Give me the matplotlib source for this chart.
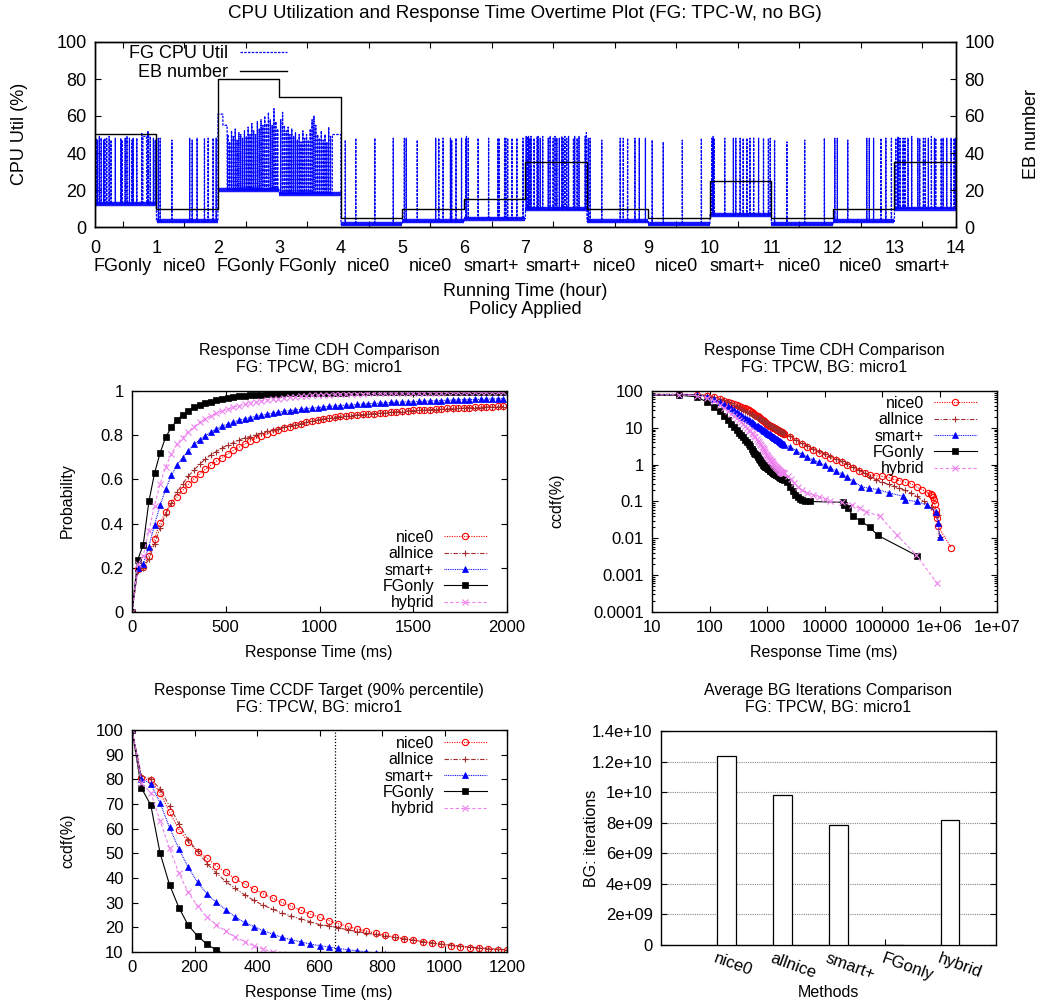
import numpy as np
import matplotlib
matplotlib.use('Agg')
import matplotlib.pyplot as plt

plt.rcParams['font.family'] = ['Liberation Sans', 'DejaVu Sans']

W, H = 1042, 1005

# ---------------- data: top plot ----------------
hours = list(range(15))
policies = ['FGonly', 'nice0', 'FGonly', 'FGonly', 'nice0', 'nice0', 'smart+',
            'smart+', 'nice0', 'nice0', 'smart+', 'nice0', 'nice0', 'smart+']
eb_number = [50, 10, 80, 70, 5, 10, 15, 35, 10, 5, 25, 5, 10, 35]
cpu_base = [12.5, 3, 20, 18, 1.5, 3, 4.5, 9.5, 3, 1.5, 6.5, 1.5, 3, 10]
plateau_t0 = [0.78, 2.00, 2.08, 3.86]
plateau_t1 = [0.84, 2.08, 2.15, 4.00]
plateau_v = [49, 61, 55, 50]
spike_t = [0.02, 0.04, 0.07, 0.10, 0.14, 0.16, 0.19, 0.23, 0.26, 0.33, 0.42, 0.44,
           0.49, 0.52, 0.56, 0.60, 0.62, 0.68, 0.76, 0.86, 0.87, 0.90, 0.95, 0.98,
           1.03, 1.06, 1.25, 1.54, 1.58, 1.66, 1.78, 1.84, 1.92, 1.97,
           2.16, 2.19, 2.22, 2.25, 2.28, 2.31, 2.34, 2.37, 2.40, 2.43, 2.46, 2.49,
           2.52, 2.55, 2.58, 2.61, 2.64, 2.67, 2.70, 2.73, 2.76, 2.79, 2.82, 2.85,
           2.88, 2.91, 2.94, 2.97,
           3.02, 3.05, 3.08, 3.11, 3.14, 3.17, 3.20, 3.23, 3.26, 3.29, 3.32, 3.35,
           3.38, 3.41, 3.44, 3.47, 3.50, 3.53, 3.56, 3.59, 3.62, 3.65, 3.68, 3.71,
           3.74, 3.77, 3.80, 3.83,
           4.07, 4.24, 4.55, 4.85,
           5.03, 5.06, 5.24, 5.54, 5.59, 5.66, 5.78, 5.80, 5.87, 5.96,
           6.03, 6.04, 6.07, 6.23, 6.40, 6.55, 6.57, 6.66, 6.68, 6.71, 6.78, 6.86, 6.96,
           7.01, 7.03, 7.05, 7.07, 7.09, 7.14, 7.19, 7.21, 7.24, 7.28, 7.37, 7.40,
           7.45, 7.48, 7.51, 7.55, 7.59, 7.61, 7.64, 7.67, 7.70, 7.78, 7.80, 7.84,
           7.87, 7.97, 7.99,
           8.02, 8.05, 8.24, 8.54, 8.59, 8.66, 8.78, 8.85, 8.95,
           9.06, 9.24, 9.55, 9.86,
           10.03, 10.05, 10.07, 10.24, 10.38, 10.42, 10.49, 10.54, 10.60, 10.65,
           10.71, 10.79, 10.87, 10.95, 10.98,
           11.05, 11.25, 11.54, 11.86,
           12.03, 12.07, 12.24, 12.55, 12.59, 12.66, 12.78, 12.86, 12.95,
           13.02, 13.05, 13.06, 13.09, 13.14, 13.17, 13.22, 13.28, 13.38, 13.41,
           13.47, 13.50, 13.55, 13.60, 13.65, 13.67, 13.76, 13.79, 13.85, 13.92,
           13.97, 13.99]
spike_h = [48, 47, 49, 48, 47, 48, 48, 49, 47, 48, 48, 47,
           48, 49, 48, 47, 48, 48, 51, 52, 50, 49, 48, 47,
           48, 48, 47, 48, 47, 48, 48, 48, 48, 48,
           50, 46, 52, 49, 53, 47, 51, 50, 48, 52, 49, 54,
           50, 56, 52, 50, 57, 53, 58, 55, 60, 56, 62, 58,
           55, 64, 57, 53,
           58, 62, 55, 52, 54, 50, 53, 49, 51, 47, 50, 46,
           52, 48, 50, 47, 53, 58, 60, 55, 50, 48, 52, 47,
           50, 46, 54, 49,
           47, 48, 48, 48,
           48, 48, 47, 48, 48, 48, 48, 47, 48, 48,
           48, 49, 48, 48, 48, 48, 48, 48, 48, 48, 48, 48, 48,
           49, 49, 49, 48, 49, 48, 49, 49, 48, 49, 48, 49,
           48, 49, 48, 48, 49, 48, 49, 48, 49, 48, 49, 48,
           49, 49, 51,
           48, 48, 47, 48, 48, 48, 48, 48, 48,
           47, 46, 47, 48,
           48, 49, 48, 48, 48, 48, 48, 48, 48, 48,
           48, 48, 48, 48, 48,
           47, 46, 47, 48,
           48, 48, 47, 48, 48, 48, 48, 48, 48,
           48, 48, 49, 48, 48, 48, 48, 49, 48, 48,
           48, 48, 48, 49, 48, 48, 48, 48, 48, 48,
           48, 48]

# ---------------- data: response-time distributions ----------------
rt_ms = list(range(0, 1981, 30))
series = ['nice0', 'allnice', 'smart+', 'FGonly', 'hybrid']
ccdf_nice0 = [100, 80.5, 79.6, 74.5, 66.8, 59.6, 54.6, 50.7, 48.0, 45.0,
              42.3, 39.7, 37.6, 35.5, 33.6, 31.8, 30.1, 28.5, 26.9, 25.4,
              24.1, 22.7, 21.5, 20.4, 19.3, 18.5, 17.6, 16.8, 16.1, 15.4,
              14.9, 14.2, 13.6, 13.1, 12.6, 12.2, 11.8, 11.5, 11.2, 10.9,
              10.8, 10.6, 10.4, 10.2, 10.0, 9.8, 9.6, 9.4, 9.2, 9.0,
              8.8, 8.7, 8.5, 8.4, 8.2, 8.1, 7.9, 7.8, 7.7, 7.6,
              7.5, 7.4, 7.3, 7.2, 7.1, 7.0, 6.9]
ccdf_allnice = [100, 81.5, 80.1, 76.1, 69.1, 61.9, 55.5, 50.8, 45.8, 42.0,
                38.6, 35.8, 33.2, 30.9, 28.9, 27.4, 25.8, 24.5, 23.4, 22.3,
                21.1, 20.6, 19.8, 19.0, 18.3, 17.7, 17.1, 16.5, 15.9, 15.3,
                14.8, 14.2, 13.7, 13.2, 12.8, 12.4, 12.0, 11.7, 11.4, 11.1,
                10.9, 10.7, 10.5, 10.3, 10.1, 9.9, 9.7, 9.5, 9.3, 9.2,
                9.0, 8.8, 8.7, 8.5, 8.4, 8.3, 8.1, 8.0, 7.9, 7.8,
                7.7, 7.6, 7.5, 7.4, 7.4, 7.3, 7.2]
ccdf_smart = [100, 80.3, 78.2, 70.4, 60.5, 51.8, 44.3, 38.2, 33.5, 30.1,
              27.2, 24.2, 22.0, 20.3, 18.6, 17.3, 15.9, 15.0, 14.1, 13.2,
              12.6, 12.0, 11.5, 10.9, 10.5, 10.0, 9.6, 9.2, 8.9, 8.6,
              8.3, 8.0, 7.7, 7.5, 7.2, 7.0, 6.8, 6.6, 6.4, 6.2,
              6.1, 5.9, 5.8, 5.6, 5.5, 5.4, 5.2, 5.1, 5.0, 4.9,
              4.8, 4.7, 4.6, 4.5, 4.4, 4.3, 4.2, 4.1, 4.0, 3.95,
              3.9, 3.8, 3.75, 3.7, 3.6, 3.55, 3.5]
ccdf_fgonly = [100, 76.5, 69.6, 50.0, 37.3, 28.0, 20.8, 16.5, 13.1, 10.8,
               8.9, 7.3, 6.5, 5.5, 4.8, 4.2, 3.6, 3.2, 2.7, 2.4,
               2.1, 2.0, 1.8, 1.6, 1.45, 1.3, 1.2, 1.1, 1.0, 0.95,
               0.92, 0.89, 0.86, 0.84, 0.8, 0.77, 0.74, 0.71, 0.69, 0.67,
               0.65, 0.63, 0.61, 0.6, 0.58, 0.57, 0.55, 0.54, 0.53, 0.52,
               0.51, 0.5, 0.49, 0.48, 0.47, 0.46, 0.45, 0.44, 0.44, 0.43,
               0.42, 0.42, 0.41, 0.41, 0.40, 0.40, 0.39]
ccdf_hybrid = [100, 78.5, 74.5, 63.2, 52.0, 42.0, 34.2, 28.5, 24.1, 21.1,
               18.4, 16.1, 14.2, 12.6, 11.2, 10.0, 9.0, 8.2, 7.4, 6.7,
               6.1, 5.5, 5.0, 4.5, 4.1, 3.7, 3.4, 3.1, 2.8, 2.6,
               2.4, 2.2, 2.0, 1.85, 1.7, 1.6, 1.5, 1.42, 1.35, 1.28,
               1.22, 1.16, 1.1, 1.05, 1.0, 0.96, 0.92, 0.88, 0.85, 0.82,
               0.79, 0.76, 0.74, 0.72, 0.7, 0.68, 0.66, 0.65, 0.64, 0.63,
               0.62, 0.61, 0.6, 0.6, 0.59, 0.59, 0.58]

# long tails (log-log plot)
tail_x_nice0 = [2500, 3200, 4000, 5000, 6300, 8000, 10000, 12600, 15800, 20000,
                25000, 31600, 40000, 50000, 63000, 80000, 1e5, 1.3e5, 1.6e5, 2e5,
                2.5e5, 3.2e5, 4e5, 5e5, 6.3e5, 7e5, 7.5e5, 7.8e5, 8e5, 8.3e5,
                8.6e5, 8.8e5, 9e5, 9.3e5, 1.6e6]
tail_y_nice0 = [5.6, 4.4, 3.6, 3.0, 2.5, 2.1, 1.8, 1.55, 1.35, 1.15,
                0.95, 0.8, 0.68, 0.58, 0.53, 0.5, 0.48, 0.45, 0.4, 0.37,
                0.33, 0.3, 0.25, 0.21, 0.17, 0.16, 0.15, 0.13, 0.11, 0.085,
                0.06, 0.045, 0.035, 0.022, 0.0055]
tail_x_allnice = [2500, 3200, 4000, 5000, 6300, 8000, 10000, 12600, 15800, 20000,
                  25000, 31600, 40000, 50000, 63000, 80000, 1e5, 1.3e5, 1.6e5, 2e5,
                  2.5e5, 3.2e5, 4e5, 5.3e5, 7e5, 9.4e5, 1e6]
tail_y_allnice = [6.0, 4.8, 3.9, 3.2, 2.7, 2.3, 2.0, 1.7, 1.45, 1.25,
                  1.05, 0.88, 0.72, 0.58, 0.47, 0.39, 0.33, 0.29, 0.26, 0.23,
                  0.2, 0.17, 0.14, 0.1, 0.07, 0.044, 0.011]
tail_x_smart = [2500, 3200, 4000, 5000, 6300, 8000, 10000, 12600, 15800, 20000,
                25000, 31600, 44000, 60000, 85000, 1.35e5, 2.3e5, 2.5e5, 4e5, 6e5,
                8.7e5, 9.4e5, 1e6]
tail_y_smart = [3.1, 2.4, 1.95, 1.6, 1.35, 1.15, 0.98, 0.82, 0.68, 0.56,
                0.45, 0.36, 0.25, 0.23, 0.21, 0.17, 0.14, 0.11, 0.1, 0.08,
                0.053, 0.026, 0.011]
tail_x_fgonly = [2200, 2500, 2800, 3100, 3400, 3700, 4000, 4500, 5500, 21000,
                 22000, 26000, 31000, 44000, 61000, 85000, 4e5]
tail_y_fgonly = [0.33, 0.25, 0.19, 0.15, 0.13, 0.115, 0.11, 0.105, 0.1, 0.095,
                 0.08, 0.065, 0.04, 0.029, 0.02, 0.012, 0.0034]
tail_x_hybrid = [2300, 2600, 3000, 3500, 4000, 5000, 6300, 8000, 10000, 12500,
                 20000, 30000, 41000, 53000, 91000, 1.8e5, 3.9e5, 9.1e5]
tail_y_hybrid = [0.5, 0.4, 0.31, 0.25, 0.2, 0.17, 0.15, 0.135, 0.12, 0.1,
                 0.095, 0.08, 0.065, 0.053, 0.04, 0.0125, 0.0036, 0.0006]
target_ms = 650

# ---------------- data: bar chart ----------------
methods = ['nice0', 'allnice', 'smart+', 'FGonly', 'hybrid']
bg_iterations = [1.235e10, 0.983e10, 0.787e10, 0.0, 0.815e10]
bar_ticks = [0, 2e9, 4e9, 6e9, 8e9, 1e10, 1.2e10, 1.4e10]
bar_tick_labels = ['0', '2e+09', '4e+09', '6e+09', '8e+09', '1e+10', '1.2e+10', '1.4e+10']

# ---------------- styles ----------------
sty = {
    'nice0':   dict(color='#ff0000', ls=(0, (1, 1.2)), marker='o', mfc='none', ms=4.5, mew=0.8),
    'allnice': dict(color='#a52a2a', ls=(0, (4, 1.5, 1, 1.5)), marker='+', ms=5, mew=0.8),
    'smart+':  dict(color='#0000ff', ls=(0, (0.8, 0.8)), marker='^', ms=4.5, mew=0.5),
    'FGonly':  dict(color='#000000', ls='-', marker='s', ms=4.2, mew=0.5),
    'hybrid':  dict(color='#ee82ee', ls=(0, (3, 2)), marker='x', ms=4.5, mew=0.8),
}
ccdfs = {'nice0': ccdf_nice0, 'allnice': ccdf_allnice, 'smart+': ccdf_smart,
         'FGonly': ccdf_fgonly, 'hybrid': ccdf_hybrid}
tails = {'nice0': (tail_x_nice0, tail_y_nice0), 'allnice': (tail_x_allnice, tail_y_allnice),
         'smart+': (tail_x_smart, tail_y_smart), 'FGonly': (tail_x_fgonly, tail_y_fgonly),
         'hybrid': (tail_x_hybrid, tail_y_hybrid)}

TFS = 11.5   # titles / labels / legend of lower panels
KFS = 12     # tick labels of lower panels

fig = plt.figure(figsize=(W / 100, H / 100), dpi=100)


def rect(l, t, r, b):
    return [l / W, 1 - b / H, (r - l) / W, (b - t) / H]


def fx(x):
    return x / W


def fy(y):
    return 1 - y / H


def style(ax, fs, right=True):
    ax.tick_params(which='both', direction='in', top=True, right=right,
                   labelsize=fs, width=0.8, pad=6)
    ax.tick_params(which='major', length=4)
    ax.tick_params(which='minor', length=2)
    for s in ax.spines.values():
        s.set_linewidth(1.0)


def lower_legend(ax, anchor):
    ax.legend(loc='upper right', bbox_to_anchor=(fx(anchor[0]), fy(anchor[1])),
              bbox_transform=fig.transFigure, frameon=False, markerfirst=False,
              borderpad=0, borderaxespad=0, handlelength=2.7, handletextpad=0.6,
              labelspacing=0.08, fontsize=TFS, numpoints=1)


# ================= top plot =================
ax = fig.add_axes(rect(95, 42, 956, 227))
t = np.round(np.arange(0, 14.0001, 0.002), 4)
seg = np.minimum(np.floor(t).astype(int), 13)
v = np.array(cpu_base, dtype=float)[seg]
for a, b, c in zip(plateau_t0, plateau_t1, plateau_v):
    v[(t >= a) & (t < b)] = c
idx = np.searchsorted(t, np.array(spike_t) - 1e-9)
v[idx] = spike_h
cpu_line, = ax.plot(t, v, color='#0000ff', lw=0.9, ls=(0, (2, 1)))
ax.hlines(cpu_base, hours[:-1], hours[1:], color='#0000ff', lw=3.2, alpha=0.9)
ax.set_xlim(0, 14)
ax.set_ylim(0, 100)
style(ax, 13, right=False)
ax.set_yticks([0, 20, 40, 60, 80, 100])
ax.set_xticks(hours, [str(h) for h in hours])
ax.tick_params(axis='x', which='major', length=0, pad=9)
ax.set_xticks([h + 0.45 for h in hours[:-1]], policies, minor=True)
ax.tick_params(axis='x', which='minor', length=4, pad=22, labelsize=13)

ax2 = ax.twinx()
eb_line, = ax2.plot(hours, eb_number + [eb_number[-1]], drawstyle='steps-post',
                    color='black', lw=1.0)
ax2.set_ylim(0, 100)
ax2.set_yticks([0, 20, 40, 60, 80, 100])
ax2.tick_params(direction='in', length=4, width=0.8, labelsize=13, pad=6)
for s in ax2.spines.values():
    s.set_linewidth(1.0)
ax2.legend([cpu_line, eb_line], ['FG CPU Util', 'EB number'], loc='upper right',
           bbox_to_anchor=(fx(287), fy(45)), bbox_transform=fig.transFigure,
           frameon=False, markerfirst=False, borderpad=0, borderaxespad=0,
           handlelength=2.6, handletextpad=0.65, labelspacing=0.13, fontsize=13)

fig.text(fx(525), fy(14), 'CPU Utilization and Response Time Overtime Plot (FG: TPC-W, no BG)',
         ha='center', va='center', fontsize=13.5)
fig.text(fx(20), fy(134), 'CPU Util (%)', rotation=90, ha='center', va='center', fontsize=13)
fig.text(fx(1032), fy(134), 'EB number', rotation=90, ha='center', va='center', fontsize=13)
fig.text(fx(525), fy(292), 'Running Time (hour)', ha='center', va='center', fontsize=13)
fig.text(fx(525), fy(310), 'Policy Applied', ha='center', va='center', fontsize=13)

# ================= middle-left: CDF =================
ax = fig.add_axes(rect(132, 391, 507, 612))
for s in series:
    cdf = 1 - np.array(ccdfs[s]) / 100.0
    ax.plot(rt_ms, cdf, lw=0.8, label=s, **sty[s])
ax.set_xlim(0, 2000)
ax.set_ylim(0, 1)
ax.set_xticks([0, 500, 1000, 1500, 2000])
ax.set_yticks([0, 0.2, 0.4, 0.6, 0.8, 1.0], ['0', '0.2', '0.4', '0.6', '0.8', '1'])
style(ax, KFS)
lower_legend(ax, (487, 530))
fig.text(fx(319), fy(351), 'Response Time CDH Comparison', ha='center', va='center', fontsize=TFS)
fig.text(fx(319), fy(367), 'FG: TPCW, BG: micro1', ha='center', va='center', fontsize=TFS)
fig.text(fx(319), fy(653), 'Response Time (ms)', ha='center', va='center', fontsize=TFS)
fig.text(fx(67), fy(501), 'Probability', rotation=90, ha='center', va='center', fontsize=TFS)

# ================= middle-right: log-log CCDF =================
ax = fig.add_axes(rect(652, 391, 997, 612))
ax.set_xscale('log', nonpositive='clip')
ax.set_yscale('log')
for s in series:
    xs = list(rt_ms) + list(tails[s][0])
    ys = list(ccdfs[s]) + list(tails[s][1])
    ax.plot(xs, ys, lw=0.8, label=s, **sty[s])
ax.set_xlim(10, 1e7)
ax.set_ylim(1e-4, 100)
ax.set_xticks([10, 100, 1000, 1e4, 1e5, 1e6, 1e7],
              ['10', '100', '1000', '10000', '100000', '1e+06', '1e+07'])
ax.set_yticks([1e-4, 1e-3, 1e-2, 0.1, 1, 10, 100],
              ['0.0001', '0.001', '0.01', '0.1', '1', '10', '100'])
ax.xaxis.set_minor_formatter(matplotlib.ticker.NullFormatter())
ax.yaxis.set_minor_formatter(matplotlib.ticker.NullFormatter())
style(ax, KFS)
lower_legend(ax, (977, 396))
fig.text(fx(824), fy(351), 'Response Time CDH Comparison', ha='center', va='center', fontsize=TFS)
fig.text(fx(824), fy(367), 'FG: TPCW, BG: micro1', ha='center', va='center', fontsize=TFS)
fig.text(fx(824), fy(653), 'Response Time (ms)', ha='center', va='center', fontsize=TFS)
fig.text(fx(557), fy(501), 'ccdf(%)', rotation=90, ha='center', va='center', fontsize=TFS)

# ================= bottom-left: CCDF target =================
ax = fig.add_axes(rect(132, 730, 507, 952))
for s in series:
    ax.plot(rt_ms, ccdfs[s], lw=0.8, label=s, **sty[s])
ax.axvline(target_ms, color='black', lw=0.9, ls=(0, (1, 1.5)))
ax.set_xlim(0, 1200)
ax.set_ylim(10, 100)
ax.set_xticks([0, 200, 400, 600, 800, 1000, 1200])
ax.set_yticks(list(range(10, 101, 10)))
style(ax, KFS)
lower_legend(ax, (487, 736))
fig.text(fx(319), fy(691), 'Response Time CCDF Target (90% percentile)', ha='center', va='center', fontsize=TFS)
fig.text(fx(319), fy(707), 'FG: TPCW, BG: micro1', ha='center', va='center', fontsize=TFS)
fig.text(fx(319), fy(992), 'Response Time (ms)', ha='center', va='center', fontsize=TFS)
fig.text(fx(68), fy(841), 'ccdf(%)', rotation=90, ha='center', va='center', fontsize=TFS)

# ================= bottom-right: bars =================
ax = fig.add_axes(rect(661, 731, 996, 945))
pos = np.arange(len(methods))
ax.bar(pos, bg_iterations, width=0.335, color='white', edgecolor='black', lw=0.9, zorder=3)
ax.set_xlim(-1.177, 4.824)
ax.set_ylim(0, 1.4e10)
ax.set_yticks(bar_ticks, bar_tick_labels)
ax.yaxis.grid(True, color='#888888', ls=(0, (1, 1)), lw=0.8)
ax.set_axisbelow(True)
style(ax, KFS)
ax.tick_params(axis='x', top=False)
ax.set_xticks(pos - 0.1675, methods, rotation=-20, ha='left', va='top',
              rotation_mode='anchor')
ax.tick_params(axis='x', pad=4)
fig.text(fx(828), fy(691), 'Average BG Iterations Comparison', ha='center', va='center', fontsize=TFS)
fig.text(fx(828), fy(707), 'FG: TPCW, BG: micro1', ha='center', va='center', fontsize=TFS)
fig.text(fx(828), fy(992), 'Methods', ha='center', va='center', fontsize=TFS)
fig.text(fx(591), fy(838), 'BG: iterations', rotation=90, ha='center', va='center', fontsize=TFS)

fig.savefig('out.png', dpi=100)
